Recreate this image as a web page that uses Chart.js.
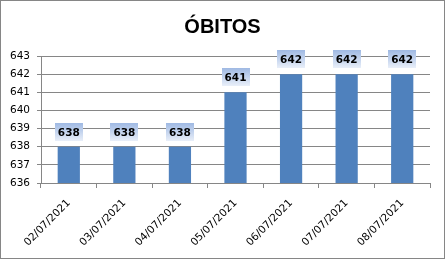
<!DOCTYPE html>
<html>
<head>
<meta charset="utf-8">
<script src="https://cdn.jsdelivr.net/npm/chart.js@4/dist/chart.umd.min.js"></script>
<style>
html,body{margin:0;padding:0;background:#fff;}
#wrap{width:445px;height:259px;position:relative;}
</style>
</head>
<body>
<div id="wrap"><canvas id="c" width="445" height="259"></canvas></div>
<script>
const categories = ["02/07/2021","03/07/2021","04/07/2021","05/07/2021","06/07/2021","07/07/2021","08/07/2021"];
const obitos = [638, 638, 638, 641, 642, 642, 642];
const yTicks = [636, 637, 638, 639, 640, 641, 642, 643];
const chartTitle = "ÓBITOS";

const gridColor = '#868686';

const borderPlugin = {
  id: 'outerBorder',
  afterDraw(chart) {
    const ctx = chart.ctx;
    ctx.save();
    ctx.strokeStyle = '#868686';
    ctx.lineWidth = 1;
    ctx.strokeRect(0.5, 0.5, chart.width - 1, chart.height - 1);
    ctx.restore();
  }
};

const labelPlugin = {
  id: 'boxLabels',
  afterDatasetsDraw(chart) {
    const ctx = chart.ctx;
    const meta = chart.getDatasetMeta(0);
    ctx.save();
    meta.data.forEach((bar, i) => {
      const w = 28, h = 18;
      const x = Math.round(bar.x - w / 2);
      const y = Math.round(bar.y - 6 - h);
      const g = ctx.createLinearGradient(0, y, 0, y + h);
      g.addColorStop(0, '#9fb9e3');
      g.addColorStop(1, '#e9eff9');
      ctx.fillStyle = g;
      ctx.fillRect(x, y, w, h);
      ctx.fillStyle = '#000';
      ctx.font = 'bold 10.5px "DejaVu Sans"';
      ctx.textAlign = 'center';
      ctx.textBaseline = 'middle';
      ctx.fillText(String(obitos[i]), bar.x, y + h / 2 + 1);
    });
    ctx.restore();
  }
};

new Chart(document.getElementById('c'), {
  type: 'bar',
  data: {
    labels: categories,
    datasets: [{
      data: obitos,
      backgroundColor: '#4f81bd',
      borderWidth: 0,
      barPercentage: 0.4,
      categoryPercentage: 1.0
    }]
  },
  options: {
    responsive: false,
    animation: false,
    devicePixelRatio: 1,
    layout: { padding: { left: 0, right: 0, top: 0, bottom: 0 } },
    plugins: {
      legend: { display: false },
      tooltip: { enabled: false },
      title: {
        display: true,
        text: chartTitle,
        color: '#000',
        font: { family: '"Liberation Sans", Arial, sans-serif', size: 20, weight: 'bold', lineHeight: 1.2 },
        padding: { top: 15, bottom: 17 }
      }
    },
    scales: {
      x: {
        offset: true,
        grid: {
          offset: true,
          drawOnChartArea: false,
          drawTicks: true,
          tickLength: 5,
          color: gridColor
        },
        border: { display: true, color: gridColor },
        ticks: {
          color: '#000',
          font: { family: '"DejaVu Sans"', size: 10.5 },
          maxRotation: 45,
          minRotation: 45,
          padding: 9,
          autoSkip: false
        },
        afterFit(scale) { scale.height = 76; }
      },
      y: {
        min: yTicks[0],
        max: yTicks[yTicks.length - 1],
        afterBuildTicks(scale) { scale.ticks = yTicks.map(v => ({ value: v })); },
        grid: {
          color: gridColor,
          drawTicks: true,
          tickLength: 4
        },
        border: { display: true, color: gridColor },
        ticks: {
          color: '#000',
          font: { family: '"DejaVu Sans"', size: 10.5 },
          padding: 7
        },
        afterFit(scale) { scale.width = 41; }
      },
      yRightSpace: {
        position: 'right',
        display: true,
        min: 0,
        max: 1,
        grid: { display: false, drawTicks: false },
        border: { display: false },
        ticks: { display: false },
        afterFit(scale) { scale.width = 15; }
      }
    }
  },
  plugins: [labelPlugin, borderPlugin]
});
</script>
</body>
</html>
